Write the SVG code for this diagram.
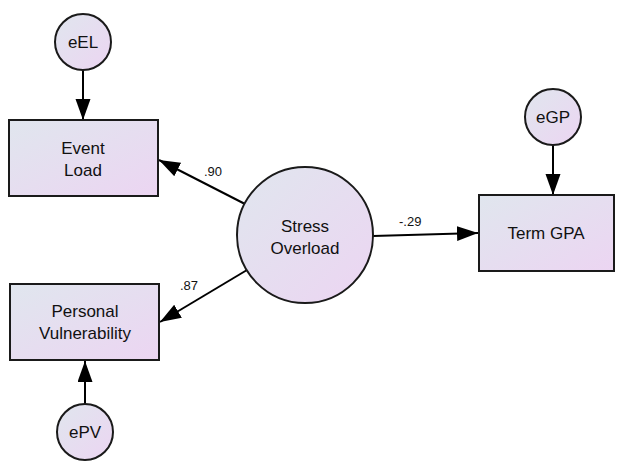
<svg xmlns="http://www.w3.org/2000/svg" width="625" height="465" viewBox="0 0 625 465">
<defs>
<linearGradient id="g" x1="0" y1="0" x2="1" y2="1">
<stop offset="0" stop-color="#e0e6ee"/>
<stop offset="1" stop-color="#ecd5f2"/>
</linearGradient>
<marker id="ah" markerUnits="userSpaceOnUse" markerWidth="22" markerHeight="16" refX="21" refY="7.5" orient="auto">
<path d="M0,0 L21,7.5 L0,15 z" fill="#000"/>
</marker>
<style>
.n{fill:url(#g);stroke:#1a1a1a;stroke-width:2}
.t{font-family:"Liberation Sans",Arial,sans-serif;font-size:17px;fill:#111;text-anchor:middle}
.l{font-family:"Liberation Sans",Arial,sans-serif;font-size:13px;fill:#111}
.c{stroke:#000;stroke-width:2;fill:none;marker-end:url(#ah)}
</style>
</defs>
<g id="connectors">
<line class="c" x1="83" y1="70" x2="83" y2="120"/>
<line class="c" x1="553" y1="145" x2="553" y2="195"/>
<line class="c" x1="85" y1="404" x2="85" y2="361"/>
<line class="c" x1="245" y1="204" x2="159" y2="160"/>
<line class="c" x1="247" y1="270" x2="160" y2="322"/>
<line class="c" x1="373" y1="236" x2="478" y2="233"/>
<text class="l" x="204" y="176">.90</text>
<text class="l" x="180" y="290">.87</text>
<text class="l" x="399" y="226">-.29</text>
</g>
<g id="eEL">
<circle class="n" cx="83" cy="42" r="28"/>
<text class="t" x="83" y="48">eEL</text>
</g>
<g id="EventLoad">
<rect class="n" x="9" y="120" width="149" height="76"/>
<text class="t" x="83" y="154">Event</text>
<text class="t" x="83" y="176">Load</text>
</g>
<g id="StressOverload">
<circle class="n" cx="305" cy="235" r="68"/>
<text class="t" x="305" y="232">Stress</text>
<text class="t" x="305" y="254">Overload</text>
</g>
<g id="eGP">
<circle class="n" cx="553" cy="117" r="28"/>
<text class="t" x="553" y="123">eGP</text>
</g>
<g id="TermGPA">
<rect class="n" x="479" y="195" width="135" height="76"/>
<text class="t" x="546" y="239">Term GPA</text>
</g>
<g id="PersonalVulnerability">
<rect class="n" x="10" y="284" width="149" height="76"/>
<text class="t" x="85" y="317">Personal</text>
<text class="t" x="85" y="339">Vulnerability</text>
</g>
<g id="ePV">
<circle class="n" cx="85" cy="432" r="28"/>
<text class="t" x="85" y="438">ePV</text>
</g>
</svg>
